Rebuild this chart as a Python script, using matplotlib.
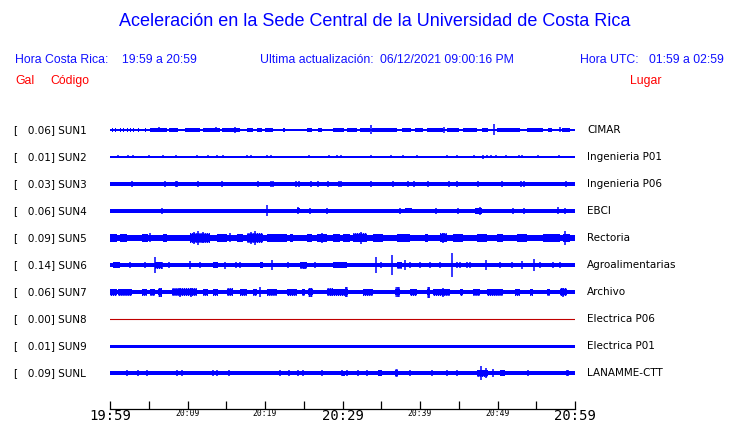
import matplotlib
matplotlib.use("Agg")
import matplotlib.pyplot as plt
from matplotlib.transforms import blended_transform_factory

# ---------------- data ----------------
codes = ["SUN1", "SUN2", "SUN3", "SUN4", "SUN5", "SUN6", "SUN7", "SUN8", "SUN9", "SUNL"]
peaks = ["0.06", "0.01", "0.03", "0.06", "0.09", "0.14", "0.06", "0.00", "0.01", "0.09"]
places = ["CIMAR", "Ingenieria P01", "Ingenieria P06", "EBCI", "Rectoria",
          "Agroalimentarias", "Archivo", "Electrica P06", "Electrica P01", "LANAMME-CTT"]

# time ticks (minutes after 19:59) and labels
tick_minutes = list(range(0, 61, 5))
tick_labels = ["19:59", "", "20:09", "", "20:19", "", "20:29", "", "20:39", "", "20:49", "", "20:59"]
big_labels = {"19:59", "20:29", "20:59"}

# base half-thickness of each trace (in row-pixels)
base_half = [0.7, 0.55, 1.8, 1.8, 2.7, 2.0, 2.0, 0.0, 1.5, 1.8]

# burst segments: (start minute, end minute, half amplitude)
bursts = {
    "SUN1": [(0.26, 0.4, 1.8), (0.65, 0.8, 1.8), (1.3, 1.4, 1.8), (1.7, 1.8, 1.8), (2.2, 2.35, 1.8),
             (2.6, 2.7, 1.8), (3.0, 3.1, 1.8), (3.6, 3.75, 1.8), (4.5, 4.6, 1.8), (5.2, 7.4, 1.8),
             (7.6, 8.8, 1.8), (9.7, 11.6, 1.8), (12.0, 14.2, 1.8), (14.5, 16.8, 1.8), (17.7, 18.5, 1.8),
             (19.0, 19.6, 1.8), (20.0, 21.0, 1.8), (22.3, 22.6, 1.8), (25.4, 26.1, 1.8), (26.8, 27.4, 1.8),
             (28.8, 30.2, 1.8), (30.6, 31.9, 1.8), (32.3, 33.5, 1.8), (33.8, 37.0, 1.8), (37.7, 38.9, 1.8),
             (39.3, 40.4, 1.8), (40.9, 43.0, 1.8), (43.5, 45.0, 1.8), (45.6, 47.4, 1.8), (48.0, 48.8, 1.8),
             (49.9, 52.9, 1.8), (53.8, 55.9, 1.8), (56.5, 57.0, 1.8), (58.3, 59.4, 1.8)],
    "SUN2": [],
    "SUN3": [],
    "SUN4": [(24.13, 24.5, 2.5), (38.06, 38.97, 2.5), (47.1, 48.0, 2.8)],
    "SUN5": [(0.0, 0.9, 4.0), (1.29, 2.19, 4.0), (4.13, 4.9, 4.0), (6.84, 7.35, 4.0), (13.81, 15.1, 4.0),
             (16.39, 17.16, 4.0), (20.26, 22.84, 4.0), (23.2, 23.6, 4.0), (25.42, 26.06, 4.0),
             (26.71, 28.0, 4.0), (28.77, 29.68, 4.0), (30.06, 30.97, 4.0), (33.94, 35.23, 4.0),
             (37.03, 38.71, 4.0), (40.65, 41.03, 4.0), (44.26, 45.55, 4.0), (47.35, 48.65, 4.0),
             (49.94, 50.71, 4.0), (52.52, 53.81, 4.0), (55.87, 58.06, 4.0), (58.45, 59.35, 4.0),
             (10.3, 12.9, 5.0), (17.7, 19.7, 5.0), (31.35, 33.16, 4.5), (42.58, 43.48, 4.5)],
    "SUN6": [(0.39, 1.29, 3.0), (5.81, 6.71, 3.5), (13.29, 13.94, 3.0), (19.35, 19.74, 3.0),
             (24.52, 25.42, 3.5), (28.77, 30.58, 2.7), (37.03, 37.68, 3.5)],
    "SUN7": [(0.0, 0.9, 3.5), (1.03, 2.84, 3.5), (4.13, 4.77, 3.5), (5.16, 5.81, 3.5), (6.19, 6.71, 4.5),
             (8.0, 11.23, 3.7), (12.0, 12.65, 3.5), (13.29, 13.94, 3.5), (15.1, 15.87, 4.0),
             (16.77, 17.68, 3.5), (18.45, 18.97, 3.5), (20.26, 21.55, 3.5), (22.84, 24.13, 3.5),
             (24.77, 25.16, 3.5), (25.55, 26.19, 4.5), (28.0, 28.77, 4.0), (28.39, 30.58, 3.5),
             (30.32, 30.71, 5.0), (32.65, 33.94, 3.5), (36.77, 37.42, 5.0), (38.71, 39.61, 3.5),
             (40.9, 41.29, 5.5), (41.68, 43.87, 3.5), (45.16, 45.55, 3.5), (46.84, 47.74, 3.5),
             (48.65, 50.71, 3.5), (52.26, 52.9, 3.5), (54.19, 54.58, 3.5), (56.39, 56.77, 3.5),
             (58.06, 58.97, 4.0)],
    "SUN8": [],
    "SUN9": [],
    "SUNL": [(29.94, 30.32, 2.5), (34.58, 35.1, 2.7), (36.77, 37.16, 4.0), (47.35, 48.77, 3.5),
             (50.32, 50.97, 3.0)],
}

# isolated spikes: (minute, half amplitude)
spikes = {
    "SUN1": [(6.32, 2.5), (13.68, 2.5), (16.13, 3.0), (33.68, 4.5), (43.1, 3.0), (49.55, 5.5), (58.06, 2.5)],
    "SUN2": [(1.03, 1.5), (2.32, 1.5), (2.97, 1.5), (5.03, 1.5), (6.84, 1.5), (8.52, 1.5), (11.23, 1.5),
             (12.65, 1.5), (13.81, 1.5), (14.58, 1.5), (17.68, 1.5), (18.19, 1.5), (20.26, 1.5),
             (20.77, 1.5), (25.68, 1.5), (28.26, 1.5), (29.29, 1.5), (29.81, 1.5), (33.68, 1.5),
             (36.26, 1.5), (37.81, 1.5), (39.61, 1.5), (43.48, 1.5), (44.77, 1.5), (46.97, 1.5),
             (48.13, 2.2), (48.65, 1.5), (49.16, 1.5), (49.81, 1.5), (51.1, 1.5), (52.77, 1.5),
             (53.16, 1.5), (55.23, 1.5), (57.94, 1.5)],
    "SUN3": [(2.84, 2.8), (7.1, 2.8), (8.52, 2.8), (8.65, 2.8), (11.35, 2.8), (14.45, 2.8), (19.1, 2.8),
             (20.77, 2.8), (21.03, 2.8), (24.0, 2.8), (24.39, 2.8), (25.94, 2.8), (26.84, 2.8),
             (28.13, 2.8), (29.55, 2.8), (29.81, 2.8), (33.68, 2.8), (36.52, 2.8), (38.45, 2.8),
             (39.23, 2.8), (41.03, 2.8), (43.74, 2.8), (44.77, 2.8), (47.48, 2.8), (50.58, 2.8),
             (53.03, 2.8), (53.42, 2.8), (58.84, 2.8)],
    "SUN4": [(1.29, 2.4), (2.97, 2.4), (4.0, 2.4), (6.71, 2.6), (8.26, 2.4), (11.23, 2.4), (14.45, 2.4),
             (15.61, 2.3), (16.65, 2.3), (18.19, 2.3), (19.61, 2.4), (20.26, 5.5), (23.35, 2.4),
             (24.26, 3.5), (25.81, 2.6), (28.0, 2.6), (29.55, 2.4), (36.52, 2.4), (37.03, 2.4),
             (37.42, 2.6), (40.0, 2.3), (41.03, 2.3), (42.06, 3.0), (43.23, 2.4), (43.61, 2.4),
             (44.9, 2.6), (47.74, 4.0), (52.0, 3.0), (53.42, 3.0), (57.81, 3.5), (58.71, 2.6)],
    "SUN5": [(11.35, 7.3), (10.8, 6.0), (12.0, 5.5), (18.71, 7.0), (18.2, 6.0), (32.39, 6.0),
             (27.3, 5.0), (58.71, 7.0), (43.0, 5.0), (5.2, 4.5), (15.5, 4.5)],
    "SUN6": [(5.81, 8.0), (2.6, 3.0), (4.5, 3.0), (6.71, 3.5), (7.6, 3.0), (10.32, 4.0), (11.6, 3.0),
             (13.6, 3.0), (14.84, 3.5), (16.3, 3.0), (16.8, 3.0), (20.9, 5.0), (23.0, 3.0), (25.0, 3.5),
             (26.5, 3.0), (34.32, 7.8), (35.0, 3.0), (36.39, 10.0), (38.06, 5.0), (38.71, 3.0),
             (40.0, 3.0), (41.29, 3.0), (42.58, 3.0), (44.13, 12.0), (44.77, 3.0), (45.2, 3.0),
             (46.06, 3.0), (46.45, 3.0), (48.52, 5.0), (50.32, 3.0), (51.87, 3.0), (53.16, 4.0),
             (54.71, 6.0), (55.48, 3.0), (57.16, 3.0), (58.06, 3.0)],
    "SUN7": [(19.35, 5.0), (30.5, 5.0), (37.1, 5.0), (41.1, 5.5), (6.4, 4.5), (25.9, 4.5), (43.0, 4.5),
             (58.5, 4.5), (9.0, 4.5), (10.5, 4.5)],
    "SUN8": [],
    "SUN9": [],
    "SUNL": [(2.19, 2.7), (3.61, 2.7), (4.77, 2.7), (8.65, 2.7), (9.29, 2.7), (13.29, 2.7), (13.81, 2.7),
             (15.35, 3.2), (21.94, 2.7), (23.1, 2.7), (24.26, 2.7), (24.9, 2.7), (27.35, 2.7),
             (29.94, 2.7), (30.58, 2.7), (32.0, 2.7), (33.16, 2.7), (38.71, 3.0), (41.55, 2.7),
             (43.48, 2.7), (44.77, 2.7), (47.87, 7.3), (48.52, 5.0), (49.42, 4.0), (53.94, 2.7),
             (58.97, 2.7), (59.1, 2.7)],
}

# ---------------- figure ----------------
W, H = 740, 423
BLUE = "#0000ff"
HDR_BLUE = "#1010ff"
RED = "#ff0000"
ROW = 27.0

plt.rcParams["hatch.linewidth"] = 1.0
plt.rcParams["hatch.color"] = BLUE

fig = plt.figure(figsize=(W / 100, H / 100), dpi=100)
fig.patch.set_facecolor("white")


def fx(x):
    return x / W


def fy(y):
    return 1 - y / H


ax = fig.add_axes([fx(110), fy(409), fx(575) - fx(110), fy(103) - fy(409)])
ax.set_xlim(0, 60)
ax.set_ylim(279, -27)
ax.set_facecolor("none")

for i, code in enumerate(codes):
    yc = i * ROW
    if code == "SUN8":
        ax.plot([0, 60], [yc, yc], color="#c00000", lw=0.8)
        continue
    h = base_half[i]
    ax.fill_between([0, 60], yc - h, yc + h, color=BLUE, lw=0)
    for t0, t1, a in bursts[code]:
        core = min(a, h + 1.1)
        ax.fill_between([t0, t1], yc - core, yc + core, color=BLUE, lw=0)
        if a > core:
            ax.fill_between([t0, t1], yc - a, yc + a, facecolor="none", edgecolor=BLUE,
                            hatch="|" * 8, lw=0)
    if spikes[code]:
        ts = [s[0] for s in spikes[code]]
        ax.vlines(ts, [yc - s[1] for s in spikes[code]], [yc + s[1] for s in spikes[code]],
                  color=BLUE, lw=1.1)

# axis styling
for side in ("top", "left", "right"):
    ax.spines[side].set_visible(False)
ax.spines["bottom"].set_linewidth(0.9)
ax.spines["bottom"].set_color("black")
ax.set_yticks([])
ax.set_xticks(tick_minutes)
ax.set_xticklabels(tick_labels)
ax.tick_params(axis="x", direction="in", length=6, width=0.9, pad=0.2, colors="black")
for lab in ax.get_xticklabels():
    lab.set_family("DejaVu Sans Mono")
    if lab.get_text() in big_labels:
        lab.set_fontsize(10)
    else:
        lab.set_fontsize(5.8)

# row labels (left: peak + code, right: place)
tr = blended_transform_factory(fig.transFigure, ax.transData)
for i, code in enumerate(codes):
    yc = i * ROW
    ax.text(fx(14), yc, "[   %s] %s" % (peaks[i], code), transform=tr, va="center", ha="left",
            fontsize=7.5, family="DejaVu Sans", color="black")
    ax.text(fx(587), yc, places[i], transform=tr, va="center", ha="left",
            fontsize=7.5, family="DejaVu Sans", color="black")

# headers
fig.text(fx(375), fy(22), "Aceleración en la Sede Central de la Universidad de Costa Rica",
         ha="center", va="center", fontsize=13, color=BLUE, family="Liberation Sans")
hk = dict(va="center", fontsize=8.8, color=HDR_BLUE, family="Liberation Sans")
fig.text(fx(15), fy(60), "Hora Costa Rica:", ha="left", **hk)
fig.text(fx(122), fy(60), "19:59 a 20:59", ha="left", **hk)
fig.text(fx(260), fy(60), "Ultima actualización:", ha="left", **hk)
fig.text(fx(380), fy(60), "06/12/2021 09:00:16 PM", ha="left", **hk)
fig.text(fx(580), fy(60), "Hora UTC:", ha="left", **hk)
fig.text(fx(724), fy(60), "01:59 a 02:59", ha="right", **hk)
rk = dict(va="center", fontsize=8.8, color=RED, family="Liberation Sans")
fig.text(fx(15), fy(81), "Gal", ha="left", **rk)
fig.text(fx(50), fy(81), "Código", ha="left", **rk)
fig.text(fx(630), fy(81), "Lugar", ha="left", **rk)

fig.savefig("out.png", dpi=100)
